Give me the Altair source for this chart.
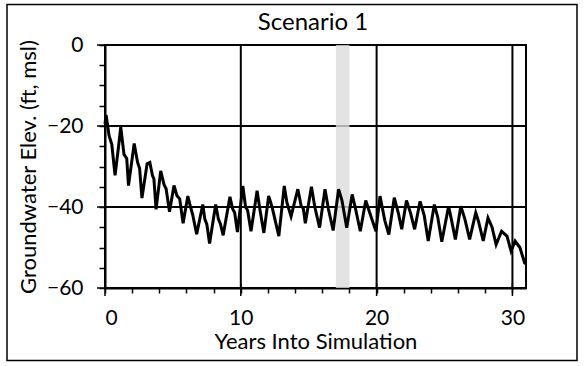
import altair as alt
import pandas as pd

# Simulated groundwater elevation (ft, msl) vs years into simulation
years = [0.0, 0.08, 0.3, 0.5, 0.74, 1.0, 1.16, 1.4, 1.6, 1.73,
         2.15, 2.4, 2.55, 2.72, 3.1, 3.3, 3.5, 3.6, 3.76, 4.1,
         4.35, 4.5, 4.75, 5.08, 5.3, 5.5, 5.75, 6.1, 6.3, 6.45,
         6.75, 7.2, 7.35, 7.5, 7.7, 8.15, 8.35, 8.5, 8.7, 9.2,
         9.4, 9.55, 9.75, 10.15, 10.35, 10.5, 10.75, 11.2, 11.4, 11.7,
         12.05, 12.3, 12.8, 13.2, 13.4, 13.7, 14.2, 14.45, 14.6, 14.75,
         15.2, 15.45, 15.8, 16.2, 16.45, 16.8, 17.2, 17.45, 17.8, 18.2,
         18.45, 18.8, 19.2, 19.45, 19.95, 20.25, 20.6, 20.9, 21.3, 21.6,
         21.85, 22.2, 22.5, 22.8, 23.2, 23.5, 23.8, 24.25, 24.5, 24.8,
         25.3, 25.5, 25.8, 26.2, 26.5, 26.85, 27.3, 27.5, 27.85, 28.2,
         28.5, 28.8, 29.2, 29.6, 29.9, 30.2, 30.55, 30.9, 31.0]
elev = [-19.5, -17.3, -22.4, -24.5, -32.2, -25.0, -20.3, -27.0, -28.0, -34.7,
        -24.3, -29.0, -30.5, -37.8, -29.3, -29.0, -32.3, -33.0, -40.6, -31.1,
        -34.5, -35.5, -41.2, -34.7, -37.2, -38.0, -44.0, -37.3, -40.0, -41.8,
        -46.7, -39.4, -43.0, -44.3, -49.0, -39.4, -43.0, -44.2, -47.0, -37.5,
        -40.5, -41.4, -46.2, -34.8, -40.0, -40.8, -46.0, -36.0, -40.5, -46.4,
        -37.3, -40.0, -47.2, -34.8, -39.0, -42.3, -35.6, -39.8, -40.3, -44.0,
        -35.0, -40.0, -45.1, -35.6, -40.5, -45.8, -35.6, -38.4, -45.1, -36.9,
        -40.5, -46.0, -38.4, -41.0, -46.0, -37.3, -43.3, -46.8, -37.7, -41.5,
        -45.5, -38.4, -41.5, -45.5, -38.6, -42.0, -48.4, -39.4, -42.5, -48.6,
        -39.8, -43.0, -48.0, -39.8, -43.0, -48.0, -41.4, -43.5, -48.4, -42.7,
        -45.0, -49.3, -46.0, -47.2, -50.9, -48.4, -50.0, -53.8, -54.0]

band_start = [17.0]
band_end = [18.0]
grid_x = [10, 20, 30]
grid_y = [-20, -40]
x_ticks = list(range(0, 31, 2))
y_ticks = list(range(0, -61, -5))
x_major = [0, 10, 20, 30]
y_major = [0, -20, -40, -60]
chart_title = ["Scenario 1"]

FONT = "Lato"

line_df = pd.DataFrame({"t": years, "elev": elev})
band_df = pd.DataFrame({"t": band_start, "t2": band_end})
gx_df = pd.DataFrame({"t": grid_x})
gy_df = pd.DataFrame({"elev": grid_y})
mx_df = pd.DataFrame({"t": x_major})
my_df = pd.DataFrame({"elev": y_major})
title_df = pd.DataFrame({"label": chart_title})

xs = alt.Scale(domain=[0, 31], nice=False, zero=False)
ys = alt.Scale(domain=[-60, 0], nice=False)

x_axis = alt.Axis(
    values=x_ticks,
    labelExpr="datum.value % 10 == 0 ? datum.label : ''",
    title="Years Into Simulation",
    grid=False,
    domainColor="black", domainWidth=2,
    tickColor="black", tickWidth=1.5, tickSize=5,
    labelPadding=14,
    labelFont=FONT, labelFontSize=21, labelColor="black",
    titleFont=FONT, titleFontSize=22, titleFontWeight="normal", titleColor="black",
    titlePadding=3, labelOverlap=False,
)
y_axis = alt.Axis(
    values=y_ticks,
    labelExpr="datum.value % 20 == 0 ? datum.label : ''",
    title="Groundwater Elev. (ft, msl)",
    grid=False,
    domainColor="black", domainWidth=2,
    tickColor="black", tickWidth=1.5, tickSize=6,
    labelPadding=16,
    labelFont=FONT, labelFontSize=21, labelColor="black",
    titleFont=FONT, titleFontSize=22, titleFontWeight="normal", titleColor="black",
    titlePadding=6, labelOverlap=False,
)

X = lambda: alt.X("t:Q", scale=xs, axis=x_axis)
Y = lambda: alt.Y("elev:Q", scale=ys, axis=y_axis)

vgrid = alt.Chart(gx_df).mark_rule(color="black", strokeWidth=2).encode(x=X())
hgrid = alt.Chart(gy_df).mark_rule(color="black", strokeWidth=2).encode(y=Y())
xmaj = alt.Chart(mx_df).mark_rule(color="black", strokeWidth=1.5).encode(
    x=X(), y=alt.value(238), y2=alt.value(251),
)
ymaj = alt.Chart(my_df).mark_rule(color="black", strokeWidth=1.5).encode(
    y=Y(), x=alt.value(-8), x2=alt.value(6),
)
band = alt.Chart(band_df).mark_rect(color="#dcdcdc", opacity=0.8).encode(
    x=X(), x2="t2:Q", y=alt.value(0), y2=alt.value(243),
)
frame = alt.Chart(pd.DataFrame({"k": [0]})).mark_rect(
    filled=False, stroke="black", strokeWidth=1.5
).encode(
    x=alt.value(-98), x2=alt.value(472), y=alt.value(-40.5), y2=alt.value(315.5)
)
title = alt.Chart(title_df).mark_text(
    font=FONT, fontSize=24, color="black", align="center", baseline="alphabetic"
).encode(
    text="label:N", x=alt.value(208), y=alt.value(-15)
)
line = alt.Chart(line_df).mark_line(color="black", strokeWidth=3).encode(x=X(), y=Y())

chart = alt.layer(vgrid, hgrid, xmaj, ymaj, band, frame, title, line).properties(
    width=421,
    height=243,
    padding={"left": 6, "top": 3, "right": 6, "bottom": 5},
).configure_view(stroke="black", strokeWidth=2)

chart.save("out.html", embed_options={"renderer": "svg", "actions": False})
